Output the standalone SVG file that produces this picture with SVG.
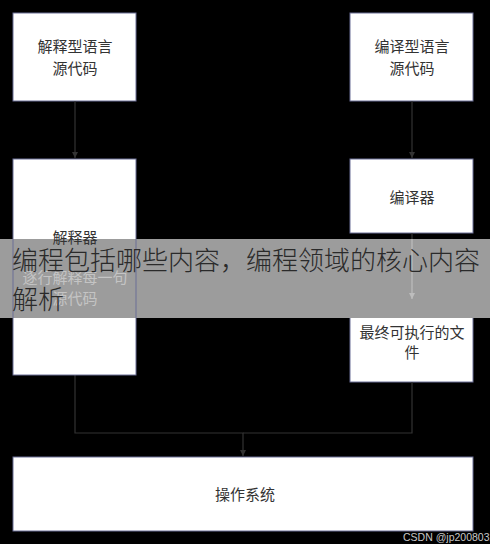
<svg xmlns="http://www.w3.org/2000/svg" width="490" height="544" viewBox="0 0 490 544">
<style>
.box{fill:#ffffff;stroke:#6b6e96;stroke-width:1}
.lbl{font-family:"Noto Sans CJK SC","Liberation Sans",sans-serif;font-size:15px;fill:#333333;text-anchor:middle}
.dim{fill:#c4c4c4}
.conn{fill:none;stroke:#333333;stroke-width:1.2}
.title{font-family:"Noto Sans CJK SC","Liberation Sans",sans-serif;font-size:26px;font-weight:200;fill:#2a2a2a}
</style>
<defs>
<marker id="arr" viewBox="0 0 10 10" refX="10" refY="5" markerWidth="5" markerHeight="5" orient="auto">
<path d="M0,0 L10,5 L0,10 z" fill="#333333"/>
</marker>
<marker id="arrL" viewBox="0 0 10 10" refX="10" refY="5" markerWidth="5" markerHeight="5" orient="auto">
<path d="M0,0 L10,5 L0,10 z" fill="#bdbdbd"/>
</marker>
<linearGradient id="interpFill" gradientUnits="userSpaceOnUse" x1="0" y1="159" x2="0" y2="375">
<stop offset="0" stop-color="#ffffff"/>
<stop offset="0.37" stop-color="#ffffff"/>
<stop offset="0.37" stop-color="#9c9c9c"/>
<stop offset="0.736" stop-color="#9c9c9c"/>
<stop offset="0.736" stop-color="#ffffff"/>
<stop offset="1" stop-color="#ffffff"/>
</linearGradient>
<linearGradient id="lineFill" gradientUnits="userSpaceOnUse" x1="0" y1="233" x2="0" y2="300">
<stop offset="0" stop-color="#333333"/>
<stop offset="0.09" stop-color="#333333"/>
<stop offset="0.09" stop-color="#bdbdbd"/>
<stop offset="1" stop-color="#bdbdbd"/>
</linearGradient>
</defs>
<rect x="0" y="0" width="490" height="544" fill="#000000"/>

<g id="n-interp-src">
<rect class="box" x="13" y="13" width="123" height="88"/>
<text class="lbl" x="75" y="52">解释型语言</text>
<text class="lbl" x="75" y="74">源代码</text>
</g>
<g id="n-compile-src">
<rect class="box" x="350" y="13" width="123" height="88"/>
<text class="lbl" x="412" y="52">编译型语言</text>
<text class="lbl" x="412" y="74">源代码</text>
</g>
<g id="n-compiler">
<rect class="box" x="350" y="159" width="123" height="74"/>
<text class="lbl" x="412" y="203">编译器</text>
</g>
<g id="n-exec">
<rect class="box" x="350" y="300" width="123" height="82"/>
<text class="lbl" x="412" y="338">最终可执行的文</text>
<text class="lbl" x="412" y="358">件</text>
</g>
<g id="n-os">
<rect class="box" x="13" y="457" width="460" height="74"/>
<text class="lbl" x="245" y="500">操作系统</text>
</g>

<rect id="band" x="0" y="239" width="490" height="79" fill="#9c9c9c"/>

<g id="connectors">
<path class="conn" d="M75,101 V158" marker-end="url(#arr)"/>
<path class="conn" d="M412,101 V158" marker-end="url(#arr)"/>
<path class="conn" d="M412,233 V299" style="stroke:url(#lineFill)" marker-end="url(#arrL)"/>
<path class="conn" d="M75,375 V433 H243 V456" marker-end="url(#arr)"/>
<path class="conn" d="M412,382 V433 H243"/>
</g>

<g id="n-interp">
<rect class="box" x="13" y="159" width="123" height="216" style="fill:url(#interpFill)"/>
<text class="lbl" x="75" y="243">解释器</text>
<text class="lbl dim" x="75" y="283">逐行解释每一句</text>
<text class="lbl dim" x="75" y="304">源代码</text>
</g>

<g id="overlay-title">
<text class="title" x="12" y="270">编程包括哪些内容，编程领域的核心内容</text>
<text class="title" x="12" y="309">解析</text>
</g>

<text x="403" y="541" font-family="Liberation Sans, sans-serif" font-size="10.5" fill="#c8c8c8">CSDN @jp20080324</text>
</svg>
